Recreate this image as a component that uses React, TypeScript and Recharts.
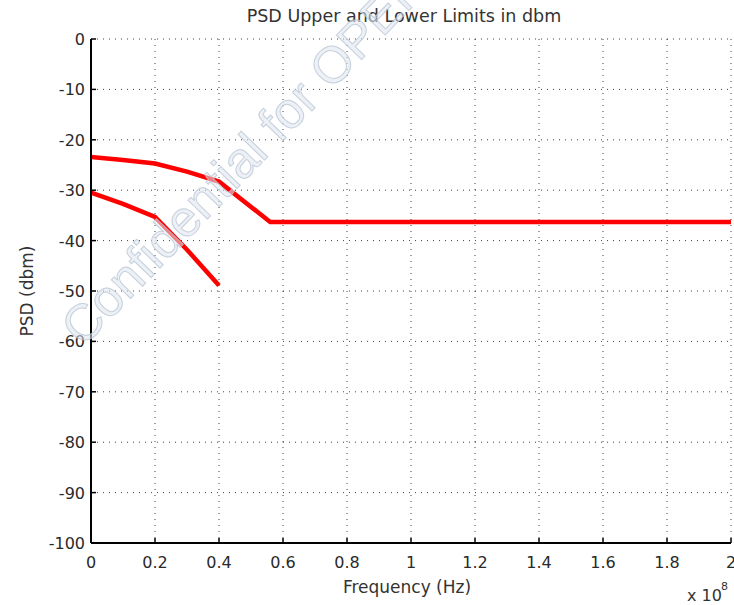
import React from "react";
import { LineChart, Line, XAxis, YAxis, CartesianGrid } from "recharts";

const upperFreq = [0, 0.1, 0.2, 0.3, 0.4, 0.56, 2];
const upperPsd = [-23.4, -24.0, -24.7, -26.3, -28.3, -36.3, -36.3];
const lowerFreq = [0, 0.1, 0.2, 0.3, 0.4];
const lowerPsd = [-30.5, -32.7, -35.3, -41.8, -48.9];
const xTicks = [0, 0.2, 0.4, 0.6, 0.8, 1, 1.2, 1.4, 1.6, 1.8, 2];
const yTicks = [0, -10, -20, -30, -40, -50, -60, -70, -80, -90, -100];

const upper = upperFreq.map((f, i) => ({ f, v: upperPsd[i] }));
const lower = lowerFreq.map((f, i) => ({ f, v: lowerPsd[i] }));

const FONT = "'DejaVu Sans', sans-serif";
const W = 734;
const H = 605;

const XTick = (props: any) => {
  const { x, y, payload } = props;
  return (
    <g>
      <line x1={x} y1={y} x2={x} y2={y - 5} stroke="#000" strokeWidth={1.5} />
      <text x={x} y={y + 25} textAnchor="middle" fontFamily={FONT} fontSize={16} fill="#2a2a2a">
        {String(payload.value)}
      </text>
    </g>
  );
};

const YTick = (props: any) => {
  const { x, y, payload } = props;
  return (
    <g>
      <line x1={x} y1={y} x2={x + 5} y2={y} stroke="#000" strokeWidth={1.5} />
      <text x={x - 6} y={y + 6} textAnchor="end" fontFamily={FONT} fontSize={16} fill="#2a2a2a">
        {String(payload.value)}
      </text>
    </g>
  );
};

export default function App() {
  return (
    <div style={{ position: "absolute", left: 0, top: 0, width: W, height: H, background: "#fff" }}>
      <LineChart width={W} height={H} margin={{ top: 39, right: 3, left: 0, bottom: 0 }}>
        <CartesianGrid stroke="#000" strokeDasharray="1 5" strokeOpacity={0.75} />
        <XAxis
          type="number"
          dataKey="f"
          domain={[0, 2]}
          ticks={xTicks}
          interval={0}
          height={62}
          tickSize={0}
          tickMargin={0}
          axisLine={{ stroke: "#000", strokeWidth: 2 }}
          tick={<XTick />}
          allowDataOverflow
        />
        <YAxis
          type="number"
          dataKey="v"
          domain={[-100, 0]}
          ticks={yTicks}
          interval={0}
          width={91}
          tickSize={0}
          tickMargin={0}
          axisLine={{ stroke: "#000", strokeWidth: 2 }}
          tick={<YTick />}
          allowDataOverflow
        />
        <Line data={upper} dataKey="v" stroke="#ff0000" strokeWidth={4.5} dot={false} isAnimationActive={false} />
        <Line data={lower} dataKey="v" stroke="#ff0000" strokeWidth={4.5} dot={false} isAnimationActive={false} />
      </LineChart>
      <svg width={W} height={H} style={{ position: "absolute", left: 0, top: 0, pointerEvents: "none" }}>
        <text x={404} y={22} textAnchor="middle" fontFamily={FONT} fontSize={17.5} fill="#333">
          PSD Upper and Lower Limits in dbm
        </text>
        <text x={407} y={593} textAnchor="middle" fontFamily={FONT} fontSize={17} fill="#333">
          Frequency (Hz)
        </text>
        <text
          x={33}
          y={291}
          textAnchor="middle"
          fontFamily={FONT}
          fontSize={17}
          fill="#333"
          transform="rotate(-90 33 291)"
        >
          PSD (dbm)
        </text>
        <text x={687} y={601} fontFamily={FONT} fontSize={16} fill="#333">
          x 10
        </text>
        <text x={721} y={590} fontFamily={FONT} fontSize={11} fill="#333">
          8
        </text>
        <text
          x={83}
          y={348}
          fontFamily="'Liberation Sans', Arial, sans-serif"
          fontSize={51}
          fill="#dfe6ee"
          fillOpacity={0.55}
          stroke="#b9c6d6"
          strokeWidth={1}
          strokeOpacity={0.8}
          transform="rotate(-46 83 348)"
        >
          Confidential for OPEN
        </text>
      </svg>
    </div>
  );
}
